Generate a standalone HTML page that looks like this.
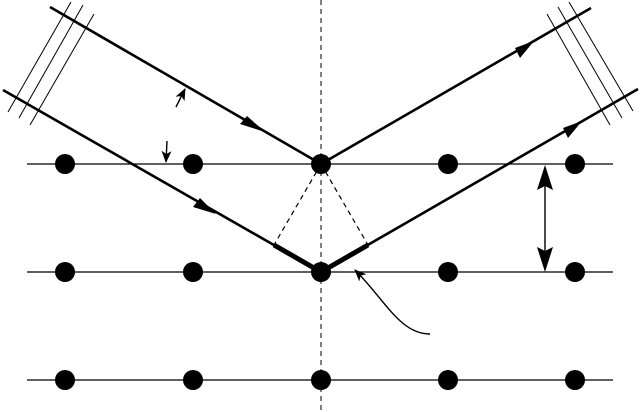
<!DOCTYPE html>
<html><head><meta charset="utf-8"><style>html,body{margin:0;padding:0;background:#fff}svg{display:block}</style></head>
<body>
<svg width="640" height="412" viewBox="0 0 640 412" xmlns="http://www.w3.org/2000/svg">
<defs>
<marker id="ah" markerWidth="12" markerHeight="10" refX="11" refY="5" orient="auto" markerUnits="userSpaceOnUse">
<path d="M0,0 L12,5 L0,10 L3,5 Z" fill="#000"/></marker>
</defs>
<g stroke="#000" stroke-width="1.3">
<line x1="27" y1="164" x2="613" y2="164"/>
<line x1="27" y1="272" x2="613" y2="272"/>
<line x1="27" y1="380" x2="613" y2="380"/>
</g>
<line x1="321" y1="0" x2="321" y2="412" stroke="#000" stroke-width="1" stroke-dasharray="5,4"/>
<g stroke="#000" stroke-width="1.2" stroke-dasharray="5,4">
<line x1="321" y1="164" x2="274" y2="245"/>
<line x1="321" y1="164" x2="368" y2="245"/>
</g>
<g stroke="#000" stroke-width="1">
<line x1="71" y1="2" x2="8" y2="112"/>
<line x1="83" y1="5" x2="19" y2="118"/>
<line x1="94" y1="14" x2="30" y2="125"/>
<line x1="547" y1="14" x2="610" y2="125"/>
<line x1="558" y1="7" x2="622" y2="118"/>
<line x1="569" y1="2" x2="633" y2="111"/>
</g>
<g stroke="#000" stroke-width="2.6" fill="none">
<line x1="50" y1="7" x2="321" y2="164"/>
<line x1="3" y1="90" x2="321" y2="272"/>
<line x1="321" y1="164" x2="591" y2="8"/>
<line x1="321" y1="272" x2="638" y2="89"/>
</g>
<g stroke="#000" stroke-width="5">
<line x1="274" y1="245" x2="321" y2="272"/>
<line x1="321" y1="272" x2="368" y2="245"/>
</g>
<g fill="#000">
<path d="M265,132 L240,124 L247,116 Z"/>
<path d="M216,214 L193,207 L200,198 Z"/>
<path d="M534,41 L520,58 L515,48 Z"/>
<path d="M582,121 L568,138 L563,128 Z"/>
</g>
<g fill="#000">
<circle cx="65" cy="164" r="10"/><circle cx="193" cy="164" r="10"/><circle cx="321" cy="164" r="10"/><circle cx="448" cy="164" r="10"/><circle cx="575" cy="164" r="10"/>
<circle cx="65" cy="272" r="10"/><circle cx="193" cy="272" r="10"/><circle cx="321" cy="272" r="10"/><circle cx="448" cy="272" r="10"/><circle cx="575" cy="272" r="10"/>
<circle cx="65" cy="380" r="10"/><circle cx="193" cy="380" r="10"/><circle cx="321" cy="380" r="10"/><circle cx="448" cy="380" r="10"/><circle cx="575" cy="380" r="10"/>
</g>
<g stroke="#000" stroke-width="1.4" fill="none">
<line x1="176" y1="107" x2="185" y2="89" marker-end="url(#ah)"/>
<line x1="167" y1="141" x2="166" y2="162" marker-end="url(#ah)"/>
<path d="M430,334 C400,334 385,300 355,270" marker-end="url(#ah)"/>
<line x1="545" y1="180" x2="545" y2="258"/>
</g>
<g fill="#000">
<path d="M545,165 L553,190 L545,186 L537,190 Z"/>
<path d="M545,272 L553,247 L545,251 L537,247 Z"/>
</g>
</svg>
</body></html>
